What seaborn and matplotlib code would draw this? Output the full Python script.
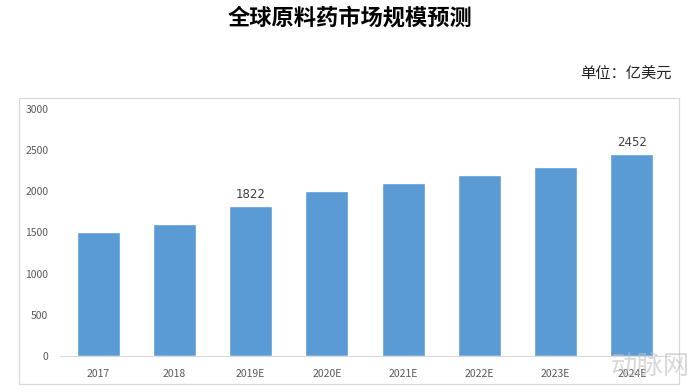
import matplotlib
matplotlib.use('Agg')
import matplotlib.pyplot as plt
from matplotlib.patches import Rectangle
import seaborn as sns
import pandas as pd

sns.set_style('white')
plt.rcParams['font.family'] = ['Noto Sans CJK SC', 'DejaVu Sans']

years = ['2017', '2018', '2019E', '2020E', '2021E', '2022E', '2023E', '2024E']
market_size = [1500, 1600, 1822, 2000, 2100, 2200, 2300, 2452]
labeled = ['2019E', '2024E']
y_ticks = [0, 500, 1000, 1500, 2000, 2500, 3000]

df = pd.DataFrame({'year': years, 'size': market_size})

fig = plt.figure(figsize=(7, 3.92), dpi=100)
ax = fig.add_axes([0.0857, 0.0918, 0.8714, 0.6302])

sns.barplot(data=df, x='year', y='size', color='#5B9BD5', saturation=1,
            width=0.565, ax=ax)

ax.set_ylim(0, 3000)
ax.set_yticks(y_ticks)
ax.set_xlim(-0.5, len(years) - 0.5)
ax.set_xlabel('')
ax.set_ylabel('')
for s in ['top', 'right', 'left']:
    ax.spines[s].set_visible(False)
ax.spines['bottom'].set_color('#d9d9d9')
ax.tick_params(axis='both', length=0, labelsize=7.5, labelcolor='#595959')
ax.tick_params(axis='y', pad=8.5)
ax.tick_params(axis='x', pad=9)

for i, (yr, v) in enumerate(zip(years, market_size)):
    if yr in labeled:
        ax.text(i, v + 60, str(v), ha='center', va='bottom', fontsize=8.5,
                color='#404040', family=['DejaVu Sans'])

# frame around the chart area
fig.patches.append(Rectangle((19 / 700, 1 - 384 / 392), 660 / 700, 286 / 392,
                             transform=fig.transFigure, fill=False,
                             edgecolor='#d9d9d9', linewidth=0.9))

fig.text(0.5, 1 - 18 / 392, '全球原料药市场规模预测', ha='center', va='center',
         fontsize=16, fontweight='bold', color='black')
fig.text(672 / 700, 1 - 73 / 392, '单位：亿美元', ha='right', va='center',
         fontsize=11, color='#222222')

# watermark
fig.text(690 / 700, 1 - 367 / 392, '动脉网', ha='right', va='center',
         fontsize=19, color='#bfbfbf', alpha=0.6)

fig.savefig('out.png', dpi=100)
